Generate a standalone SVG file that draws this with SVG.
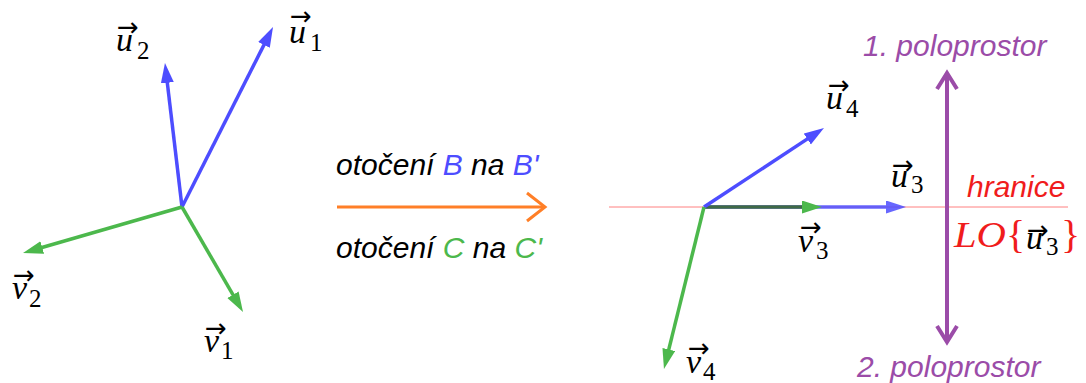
<svg xmlns="http://www.w3.org/2000/svg" width="1086" height="383" viewBox="0 0 1086 383">
<style>
.bl{stroke:#4d4dff;stroke-width:3.5;fill:none}
.gr{stroke:#4cb84c;stroke-width:3.5;fill:none}
.m{font-family:"Liberation Serif",serif;font-style:italic;font-size:34px;fill:#000}
.s{font-family:"Liberation Serif",serif;font-size:25px;fill:#000}
.va{font-family:"DejaVu Sans",sans-serif;font-size:26px;fill:#000}
.t{font-family:"Liberation Sans",Arial,sans-serif;font-style:italic;font-size:30px}
.pu{fill:#9b4ca8}
.rd{fill:#f01c1c;font-family:"Liberation Serif",serif}
</style>
<defs>
<marker id="hb" markerUnits="userSpaceOnUse" markerWidth="22" markerHeight="14" refX="12" refY="6.5" orient="auto"><path d="M0,0 L20,6.5 L0,13 z" fill="#4d4dff"/></marker>
<marker id="hg" markerUnits="userSpaceOnUse" markerWidth="22" markerHeight="14" refX="12" refY="6.5" orient="auto"><path d="M0,0 L20,6.5 L0,13 z" fill="#4cb84c"/></marker>
</defs>

<g id="connectors">
<line x1="609" y1="207" x2="1068" y2="207" stroke="#ff8080" stroke-width="1"/>
<line class="bl" x1="182" y1="207" x2="269.4" y2="34.1" marker-end="url(#hb)"/>
<line class="bl" x1="182" y1="207" x2="165.9" y2="70.9" marker-end="url(#hb)"/>
<line class="gr" x1="182" y1="207" x2="30.7" y2="250.8" marker-end="url(#hg)"/>
<line class="gr" x1="182" y1="207" x2="239" y2="305.1" marker-end="url(#hg)"/>
<line x1="337" y1="207" x2="544" y2="207" stroke="#ff7f27" stroke-width="3"/>
<polyline points="527,193 545,207 527,221" fill="none" stroke="#ff7f27" stroke-width="3"/>
<line class="bl" x1="704" y1="207" x2="898" y2="207" marker-end="url(#hb)" opacity="0.85"/>
<line class="gr" x1="704" y1="207" x2="814" y2="207" marker-end="url(#hg)" style="stroke:#3f6a46"/>
<line class="bl" x1="704" y1="207" x2="817.3" y2="132.4" marker-end="url(#hb)"/>
<line class="gr" x1="704" y1="207" x2="665.9" y2="361.2" marker-end="url(#hg)"/>
<line x1="947" y1="73" x2="947" y2="342" stroke="#9b4ca8" stroke-width="4"/>
<polyline points="937,89 947,73 957,89" fill="none" stroke="#9b4ca8" stroke-width="4"/>
<polyline points="937,326 947,342 957,326" fill="none" stroke="#9b4ca8" stroke-width="4"/>
</g>

<g id="u1"><text class="va" x="290" y="25">→</text><text class="m" x="289" y="43">u</text><text class="s" x="310" y="51">1</text></g>
<g id="u2"><text class="va" x="117" y="36">→</text><text class="m" x="116" y="51">u</text><text class="s" x="137" y="59">2</text></g>
<g id="v2"><text class="va" x="13" y="284">→</text><text class="m" x="12" y="299">v</text><text class="s" x="29" y="307">2</text></g>
<g id="v1"><text class="va" x="205" y="337">→</text><text class="m" x="204" y="352">v</text><text class="s" x="221" y="359">1</text></g>

<g id="label-B"><text class="t" x="336" y="175"><tspan fill="#000">otočení </tspan><tspan fill="#4d4dff">B</tspan><tspan fill="#000"> na </tspan><tspan fill="#4d4dff">B'</tspan></text></g>
<g id="label-C"><text class="t" x="336" y="258"><tspan fill="#000">otočení </tspan><tspan fill="#4cb84c">C</tspan><tspan fill="#000"> na </tspan><tspan fill="#4cb84c">C'</tspan></text></g>

<g id="u4"><text class="va" x="828" y="94">→</text><text class="m" x="826" y="109">u</text><text class="s" x="846" y="117">4</text></g>
<g id="u3"><text class="va" x="892" y="174">→</text><text class="m" x="891" y="187">u</text><text class="s" x="911" y="193">3</text></g>
<g id="v3"><text class="va" x="800" y="236">→</text><text class="m" x="798" y="252">v</text><text class="s" x="816" y="259">3</text></g>
<g id="v4"><text class="va" x="688" y="357">→</text><text class="m" x="686" y="373">v</text><text class="s" x="703" y="380">4</text></g>

<g id="halfspace1"><text class="t pu" x="863" y="56">1. poloprostor</text></g>
<g id="halfspace2"><text class="t pu" x="857" y="377">2. poloprostor</text></g>
<g id="hranice"><text class="t" x="967" y="197" fill="#f01c1c">hranice</text></g>
<g id="LO"><text class="rd" x="954" y="247" font-size="36" font-style="italic" textLength="52" lengthAdjust="spacingAndGlyphs">LO</text><text class="rd" x="1006" y="248" font-size="40">{</text><text class="va" x="1027" y="239">→</text><text class="m" x="1026" y="249">u</text><text class="s" x="1046" y="255">3</text><text class="rd" x="1061" y="248" font-size="40">}</text></g>
</svg>
